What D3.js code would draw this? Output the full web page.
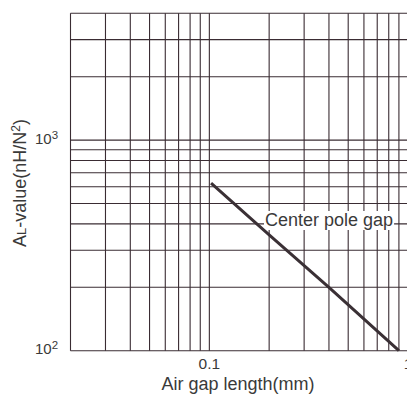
<!DOCTYPE html>
<html>
<head>
<meta charset="utf-8">
<script src="https://cdn.jsdelivr.net/npm/d3@7"></script>
<style>
  body { margin: 0; background: #fff; }
  svg { display: block; font-family: "Liberation Sans", Arial, sans-serif; }
</style>
</head>
<body>
<svg id="chart" width="407" height="396"></svg>
<script>
// grid values (log-log paper)
var xGrid = [0.02, 0.03, 0.04, 0.05, 0.06, 0.07, 0.08, 0.09,
             0.1, 0.2, 0.3, 0.4, 0.5, 0.6, 0.7, 0.8, 0.9, 1];
var yGrid = [100, 200, 300, 400, 500, 600, 700, 800, 900,
             1000, 2000, 3000, 4000];
var xTickLabels = [{ v: 0.1, t: "0.1" }, { v: 1, t: "1" }];
var yTickLabels = [{ v: 100, base: "10", sup: "2" }, { v: 1000, base: "10", sup: "3" }];

// center pole gap curve
var gapMm = [0.102, 0.2, 0.4, 0.9];
var alValue = [625, 355, 200, 100];

var ink = "#3a2c33";
var svg = d3.select("#chart");

var x = d3.scaleLog().domain([0.02, 1]).range([70.5, 408]);
var y = d3.scaleLog().domain([100, 4000]).range([350.7, 13.3]);

// vertical grid
svg.append("g").selectAll("line")
    .data(xGrid)
  .enter()
    .append("line")
    .attr("x1", function(d) { return x(d); })
    .attr("x2", function(d) { return x(d); })
    .attr("y1", y(4000))
    .attr("y2", y(100))
    .attr("stroke", ink)
    .attr("stroke-width", 1.1);

// horizontal grid
svg.append("g").selectAll("line")
    .data(yGrid)
  .enter()
    .append("line")
    .attr("x1", x(0.02))
    .attr("x2", x(1))
    .attr("y1", function(d) { return y(d); })
    .attr("y2", function(d) { return y(d); })
    .attr("stroke", ink)
    .attr("stroke-width", 1.1);

// label with white box behind it
var label = svg.append("g");
var lbl = label.append("text")
    .attr("x", 265)
    .attr("y", 226)
    .attr("font-size", 18)
    .attr("fill", "#3a3a3a")
    .text("Center pole gap");
var bb = lbl.node().getBBox();
label.insert("rect", "text")
    .attr("x", bb.x - 1)
    .attr("y", bb.y + 1)
    .attr("width", bb.width + 2)
    .attr("height", bb.height - 1)
    .attr("fill", "#fff");

// curve
var pts = gapMm.map(function(g, i) { return [g, alValue[i]]; });
svg.append("path")
    .datum(pts)
    .attr("fill", "none")
    .attr("stroke", "#3a3035")
    .attr("stroke-width", 3)
    .attr("d", d3.line()
        .x(function(d) { return x(d[0]); })
        .y(function(d) { return y(d[1]); }));

// x tick labels
svg.append("g").selectAll("text")
    .data(xTickLabels)
  .enter()
    .append("text")
    .attr("x", function(d) { return x(d.v); })
    .attr("y", 369)
    .attr("text-anchor", "middle")
    .attr("font-size", 15.5)
    .attr("fill", "#3a3a3a")
    .text(function(d) { return d.t; });

// y tick labels
var yt = svg.append("g").selectAll("text")
    .data(yTickLabels)
  .enter()
    .append("text")
    .attr("x", 35)
    .attr("y", function(d) { return y(d.v) + 3.5; })
    .attr("font-size", 15)
    .attr("fill", "#3a3a3a");
yt.append("tspan").text(function(d) { return d.base; });
yt.append("tspan")
    .attr("font-size", 11.5)
    .attr("dy", -5)
    .text(function(d) { return d.sup; });

// axis titles
svg.append("text")
    .attr("x", 238)
    .attr("y", 390)
    .attr("text-anchor", "middle")
    .attr("font-size", 18)
    .attr("fill", "#3a3a3a")
    .text("Air gap length(mm)");

var yTitle = svg.append("text")
    .attr("transform", "translate(26,183) rotate(-90)")
    .attr("text-anchor", "middle")
    .attr("font-size", 18)
    .attr("fill", "#3a3a3a");
yTitle.append("tspan").text("A");
yTitle.append("tspan").attr("font-size", 13).text("L");
yTitle.append("tspan").text("-value(nH/N");
yTitle.append("tspan").attr("font-size", 12).attr("dy", -6).text("2");
yTitle.append("tspan").attr("dy", 6).text(")");
</script>
</body>
</html>
